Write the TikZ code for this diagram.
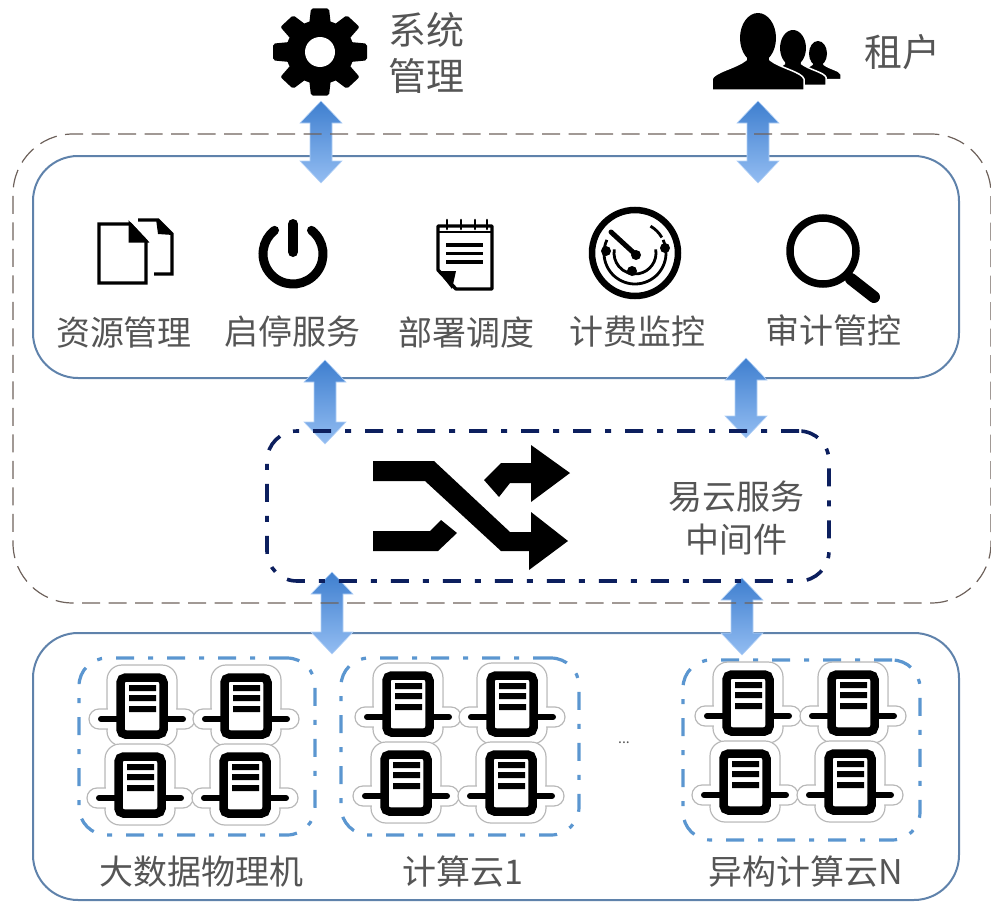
\documentclass[tikz,border=0pt]{standalone}
\usepackage{fontspec}
\setmainfont{Noto Sans CJK SC}
\usetikzlibrary{calc}
\definecolor{boxblue}{HTML}{5F82AB}
\definecolor{outerdash}{HTML}{6E625C}
\definecolor{navydash}{HTML}{0C1F5E}
\definecolor{clusterblue}{HTML}{5B96D0}
\definecolor{labelgray}{HTML}{555555}
\definecolor{arrowtop}{HTML}{3F7FCF}
\definecolor{arrowbottom}{HTML}{93BDF2}
\tikzset{
  x=1pt,y=-1pt,
  solidbox/.style={draw=boxblue,line width=2pt,rounded corners=45pt,inner sep=0pt,outer sep=0pt},
  outerbox/.style={draw=outerdash,line width=1.2pt,rounded corners=60pt,inner sep=0pt,outer sep=0pt,dash pattern=on 18pt off 8.5pt},
  midbox/.style={draw=navydash,line width=3.6pt,rounded corners=30pt,inner sep=0pt,outer sep=0pt,dash pattern=on 18pt off 14pt on 6pt off 14pt},
  clusterbox/.style={draw=clusterblue,line width=3.2pt,rounded corners=28pt,inner sep=0pt,outer sep=0pt,dash pattern=on 18pt off 14pt on 5pt off 14pt},
  lab/.style={text=labelgray,inner sep=0pt,font=\fontsize{34}{34}\selectfont},
  biglab/.style={text=labelgray,inner sep=0pt,font=\fontsize{38}{38}\selectfont},
  serverpic/.pic={
    \path[draw=black!28,line width=1.2pt,fill=white,rounded corners=15pt] (-35,-41) rectangle (35,40);
    \path[draw=black!28,line width=1.2pt,fill=white,rounded corners=10pt] (-53,3) rectangle (53,23);
    \path[fill=white,rounded corners=14pt] (-34,-40) rectangle (34,39);
    \path[fill=white,rounded corners=9pt] (-52,4) rectangle (52,22);
    \draw[line width=6pt,line cap=round] (-41,13) -- (-24,13) (24,13) -- (41,13);
    \draw[line width=8.5pt,rounded corners=5pt,fill=white] (-21.5,-28.5) rectangle (21.5,28.5);
    \fill (-13,-21) rectangle (14,-15) (-13,-11) rectangle (14,-5) (-13,0) rectangle (14,6);
  }
}
\newcommand{\blockarrow}[2]{%
  \path[top color=arrowtop,bottom color=arrowbottom,draw=arrowbottom!70!white,line width=0.6pt]
    (#1) -- ($(#1)+(21,22)$) -- ($(#1)+(11,22)$) -- ($(#2)+(11,-22)$) -- ($(#2)+(21,-22)$)
    -- (#2) -- ($(#2)+(-21,-22)$) -- ($(#2)+(-11,-22)$) -- ($(#1)+(-11,22)$) -- ($(#1)+(-21,22)$) -- cycle;}
\newcommand{\person}[4]{% x, y of head centre, scale, outline
  \begin{scope}[shift={(#1,#2)},scale=#3]
    \path[fill=black,draw=white,line width=#4] (-46,52) -- (-46,41) .. controls (-44,34) and (-22,30) .. (-12,22) -- (-11,12)
      -- (11,12) -- (12,22) .. controls (22,30) and (44,34) .. (46,41) -- (46,52) -- cycle;
    \fill (0,0) ellipse [x radius=18,y radius=25];
  \end{scope}}
\begin{document}
\begin{tikzpicture}
\useasboundingbox (0,0) rectangle (991,902);
% solid boxes
\node[solidbox,minimum width=926pt,minimum height=222pt] (services) at (496,267) {};
\node[solidbox,minimum width=926pt,minimum height=267pt] (infra) at (496,766.5) {};
% connector ends
\coordinate (a1t) at (321,101); \coordinate (a1b) at (321,183);
\coordinate (a2t) at (758,101); \coordinate (a2b) at (758,183);
\coordinate (a3t) at (325,360); \coordinate (a3b) at (325,444);
\coordinate (a4t) at (746,358); \coordinate (a4b) at (746,438);
\coordinate (a5t) at (332,572); \coordinate (a5b) at (332,654);
\coordinate (a6t) at (742,578); \coordinate (a6b) at (742,655);
\blockarrow{a1t}{a1b}
\blockarrow{a2t}{a2b}
\blockarrow{a3t}{a3b}
\blockarrow{a4t}{a4b}
\blockarrow{a5t}{a5b}
\blockarrow{a6t}{a6b}
% dashed boxes
\node[outerbox,minimum width=978pt,minimum height=469pt] (platform) at (502,368.5) {};
\node[midbox,minimum width=562pt,minimum height=150pt] (middleware) at (548,506) {};
\node[clusterbox,minimum width=236pt,minimum height=177pt] (c1) at (197,746.5) {};
\node[clusterbox,minimum width=238pt,minimum height=177pt] (c2) at (460,746.5) {};
\node[clusterbox,minimum width=237pt,minimum height=180pt] (c3) at (801.5,750) {};
% gear
\coordinate (gear) at (320,52);
\fill (gear) ellipse [x radius=34,y radius=32];
\foreach \a in {0,45,...,315}{
  \fill[shift={(gear)},yscale=.93,rotate=\a,rounded corners=2pt] (-11,-28) -- (-9,-47) -- (9,-47) -- (11,-28) -- cycle;
}
\fill[white] (gear) circle (15pt);
% users
\person{818}{53.5}{0.5}{1.5pt}
\person{793}{48}{0.72}{1.5pt}
\person{758}{38}{1}{1.5pt}
% documents icon
\draw[line width=3.4pt,line join=miter] (138,220) -- (158,220) -- (172,234) -- (172,274) -- (154,274);
\fill (156,219) -- (158,234) -- (173,235) -- cycle;
\path[draw=black,fill=white,line width=3.4pt] (99,224) -- (130,224) -- (146,241) -- (146,283) -- (99,283) -- cycle;
\draw[line width=3pt,fill=black] (130,224) -- (130,241) -- (146,241) -- cycle;
% power icon
\coordinate (pw) at (293,254);
\draw[line width=9pt,line cap=round] ([shift={(52:30pt)}]pw) arc[start angle=52,end angle=-232,radius=30pt];
\draw[line width=10pt,line cap=round] (293,224) -- (293,252);
% notepad icon
\draw[line width=3.4pt,line join=round] (438,226) -- (492,226) -- (492,289) -- (456,289) -- (438,270) -- cycle;
\fill (452,289) -- (456,271) -- (438,271) -- cycle;
\draw[line width=2.6pt] (438,232) -- (492,232);
\foreach \x in {447,461,475,487}{ \draw[line width=2.6pt,line cap=round] (\x,220) -- (\x,229); }
\foreach \y in {245,253.5,262}{ \draw[line width=3.6pt] (446,\y) -- (483,\y); }
% radar icon
\coordinate (rd) at (635,253);
\draw[line width=6.5pt] (rd) circle (43pt);
\draw[line width=2.8pt] ([shift={(25:31pt)}]rd) arc[start angle=25,end angle=-205,radius=31pt];
\draw[line width=2.8pt] ([shift={(10:21pt)}]rd) arc[start angle=10,end angle=-190,radius=21pt];
\draw[line width=2.8pt] ([shift={(60:31pt)}]rd) arc[start angle=60,end angle=30,radius=31pt];
\draw[line width=5pt,line cap=round] (611,232) -- (635,254);
\fill (636,255) circle (5pt) (606,251) circle (5pt) (665,248) circle (5pt) (632,271) circle (5pt);
% magnifier icon
\draw[line width=7.5pt] (823,251) circle (33pt);
\draw[line width=12pt,line cap=round] (851,279) -- (874,297);
% shuffle icon
\fill (373,461) -- (434,461) -- (510,532) -- (531,532) -- (531,512) -- (568,541) -- (529,570) -- (529,551) -- (501,551) -- (425,481) -- (373,481) -- cycle;
\fill (484,480) -- (501,463) -- (531,463) -- (531,445) -- (570,473) -- (531,502) -- (531,483) -- (510,483) -- (499,497) -- cycle;
\fill (373,531) -- (430,531) -- (441,520) -- (457,533) -- (438,551) -- (373,551) -- cycle;
% servers
\foreach \cx/\cy in {142/706,246/706,140/785,245/785,408/704,512/704,406/783,511/783,748/703,853/703,745/782,850/782}{
  \pic at (\cx,\cy) {serverpic};
}
% labels
\node[biglab] (l1) at (426,30) {系统};
\node[biglab] (l2) at (426,76) {管理};
\node[biglab] (l3) at (902,52) {租户};
\node[lab] (t1) at (124,333) {资源管理};
\node[lab] (t2) at (292,332) {启停服务};
\node[lab] (t3) at (466,332) {部署调度};
\node[lab] (t4) at (637,332) {计费监控};
\node[lab] (t5) at (833,330) {审计管控};
\node[lab] (m1) at (736,497) {易云服务};
\node[lab] (m2) at (736,540) {中间件};
\node[lab] (b1) at (201,872) {大数据物理机};
\node[lab] (b2) at (463,872) {计算云1};
\node[lab] (b3) at (806,872) {异构计算云N};
\node[text=labelgray,inner sep=0pt,font=\fontsize{14}{14}\selectfont] (dots) at (624,743) {...};
\end{tikzpicture}
\end{document}
